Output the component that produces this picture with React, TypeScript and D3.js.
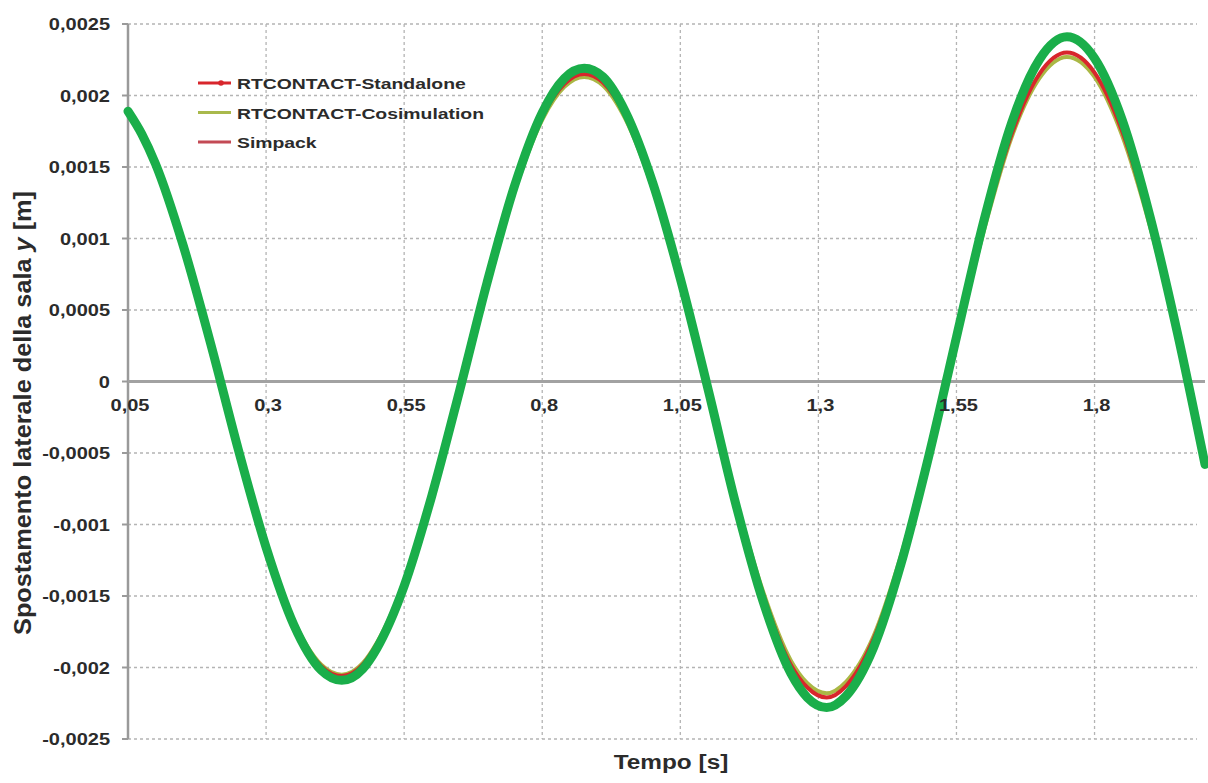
import React from "react";
import * as d3 from "d3";

// time samples [s]
const time = [
  0.05, 0.075, 0.1, 0.15, 0.2,
  0.25, 0.3, 0.35, 0.4, 0.437, 0.475, 0.5, 0.55, 0.6, 0.65,
  0.7, 0.75, 0.8, 0.84, 0.876, 0.91, 0.95, 1.0, 1.05,
  1.1, 1.15, 1.2, 1.25, 1.28, 1.315, 1.35, 1.4, 1.45, 1.5,
  1.55, 1.6, 1.65, 1.7, 1.75, 1.8, 1.85, 1.9, 1.95,
  2.0,
];

// lateral displacement y [m]
const standalone = [
  0.00189, 0.00173, 0.00152, 0.00095, 0.00026,
  -0.00047, -0.00114, -0.00168, -0.00199, -0.00206, -0.00198, -0.00184, -0.00141, -0.00079, -0.00007,
  0.00068, 0.00134, 0.00185, 0.00208, 0.00215, 0.00209, 0.00186, 0.00136, 0.00071,
  -0.00005, -0.00082, -0.00149, -0.00198, -0.00214, -0.00221, -0.00213, -0.0018, -0.00123, -0.0005,
  0.0003, 0.00108, 0.00173, 0.00215, 0.0023, 0.00216, 0.00175, 0.00111, 0.00032,
  -0.00056,
];

const cosimulation = [
  0.00189, 0.00173, 0.00152, 0.00095, 0.00026,
  -0.00047, -0.00114, -0.00167, -0.00198, -0.00205, -0.00197, -0.00183, -0.0014, -0.00078, -0.00007,
  0.00067, 0.00133, 0.00183, 0.00206, 0.00213, 0.00207, 0.00184, 0.00135, 0.0007,
  -0.00005, -0.00081, -0.00147, -0.00195, -0.00211, -0.00218, -0.0021, -0.00178, -0.00121, -0.0005,
  0.00029, 0.00106, 0.00171, 0.00212, 0.00227, 0.00213, 0.00172, 0.00109, 0.00032,
  -0.00055,
];

const simpack = [
  0.00189, 0.00173, 0.00152, 0.00095, 0.00026,
  -0.00048, -0.00116, -0.0017, -0.00202, -0.00209, -0.00201, -0.00187, -0.00143, -0.0008, -0.00007,
  0.00069, 0.00137, 0.00188, 0.00212, 0.00219, 0.00213, 0.00189, 0.00139, 0.00072,
  -0.00005, -0.00085, -0.00154, -0.00204, -0.00221, -0.00228, -0.0022, -0.00186, -0.00127, -0.00052,
  0.00031, 0.00113, 0.00181, 0.00225, 0.00241, 0.00226, 0.00183, 0.00116, 0.00034,
  -0.00058,
];

const xTicks = [0.05, 0.3, 0.55, 0.8, 1.05, 1.3, 1.55, 1.8];
const yTicks = [-0.0025, -0.002, -0.0015, -0.001, -0.0005, 0, 0.0005, 0.001, 0.0015, 0.002, 0.0025];

const legendItems = [
  { label: "RTCONTACT-Standalone", color: "#d8262c", dot: true },
  { label: "RTCONTACT-Cosimulation", color: "#a9b94c", dot: false },
  { label: "Simpack", color: "#c34a55", dot: false },
];

const W = 1208;
const H = 783;
const SX = 1.25; // text in the source image is stretched horizontally
const FONT = "'Liberation Sans', Arial, sans-serif";

const x = d3.scaleLinear().domain([0.05, 2.0]).range([128, 1205]);
const y = d3.scaleLinear().domain([-0.0025, 0.0025]).range([739, 24]);

const fmt = (v: number) => String(+v.toFixed(4)).replace(".", ",");

const line = (vals: number[]) =>
  d3
    .line<number>()
    .x((_, i) => x(time[i]))
    .y((d) => y(d))
    .curve(d3.curveMonotoneX)(vals) || "";

function Label({ px, py, size, anchor = "start", children }: any) {
  return (
    <g transform={`translate(${px},${py}) scale(${SX},1)`}>
      <text textAnchor={anchor} fontSize={size} fontWeight="bold" fontFamily={FONT} fill="#2b2b2b">
        {children}
      </text>
    </g>
  );
}

export default function App() {
  return (
    <svg
      width={W}
      height={H}
      style={{ position: "absolute", left: 0, top: 0, background: "#fff" }}
    >
      {/* grid */}
      {yTicks
        .filter((t) => t !== 0)
        .map((t) => (
          <line key={"gy" + t} x1={128} x2={1197} y1={y(t)} y2={y(t)} stroke="#b4b4b4" strokeWidth={1.3} strokeDasharray="3,3" />
        ))}
      {xTicks
        .filter((t) => t !== 0.05)
        .map((t) => (
          <line key={"gx" + t} x1={x(t)} x2={x(t)} y1={y(0.0025)} y2={y(-0.0025)} stroke="#b4b4b4" strokeWidth={1.3} strokeDasharray="3,3" />
        ))}

      {/* axes */}
      <line x1={x(0.05)} x2={x(0.05)} y1={y(0.0025)} y2={y(-0.0025)} stroke="#9a9a9a" strokeWidth={2.5} />
      {yTicks.map((t) => (
        <line key={"ty" + t} x1={x(0.05) - 6} x2={x(0.05)} y1={y(t)} y2={y(t)} stroke="#9a9a9a" strokeWidth={2} />
      ))}
      <line x1={x(0.05)} x2={x(2.0)} y1={y(0)} y2={y(0)} stroke="#a2a2a2" strokeWidth={3} />

      {/* series */}
      <path d={line(cosimulation)} fill="none" stroke="#aab845" strokeWidth={4} />
      <path d={line(standalone)} fill="none" stroke="#d8262c" strokeWidth={4} />
      <path d={line(simpack)} fill="none" stroke="#1aae4a" strokeWidth={9} strokeLinecap="round" />

      {/* tick labels */}
      {yTicks.map((t) => (
        <Label key={"ly" + t} px={110} py={y(t) + 6} size={16} anchor="end">
          {fmt(t)}
        </Label>
      ))}
      {xTicks.map((t) => (
        <Label key={"lx" + t} px={x(t) + 2} py={411} size={16} anchor="middle">
          {fmt(t)}
        </Label>
      ))}

      {/* axis titles */}
      <Label px={671} py={769} size={19.5} anchor="middle">
        Tempo [s]
      </Label>
      <g transform={`translate(31,413) rotate(-90) scale(1.1,1)`}>
        <text textAnchor="middle" fontSize={23} fontWeight="bold" fontFamily={FONT} fill="#2b2b2b">
          Spostamento laterale della sala <tspan fontStyle="italic">y</tspan> [m]
        </text>
      </g>

      {/* legend */}
      {legendItems.map((it, i) => {
        const ly = 83 + i * 29.5;
        return (
          <g key={it.label}>
            <line x1={198} x2={231} y1={ly} y2={ly} stroke={it.color} strokeWidth={3} />
            {it.dot && <circle cx={221} cy={ly} r={2.8} fill={it.color} />}
            <Label px={237} py={ly + 6} size={15.5}>
              {it.label}
            </Label>
          </g>
        );
      })}
    </svg>
  );
}
